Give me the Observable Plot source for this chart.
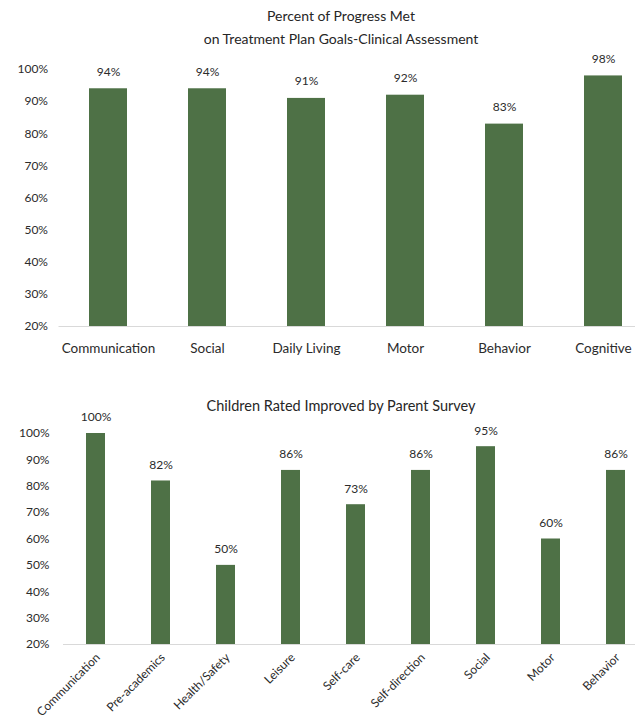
<!DOCTYPE html>
<html><head><meta charset="utf-8">
<script src="https://cdn.jsdelivr.net/npm/d3@7"></script>
<script src="https://cdn.jsdelivr.net/npm/@observablehq/plot@0.6"></script>
<style>
body{margin:0;background:#fff;font-family:Lato,sans-serif;}
#wrap{position:relative;width:635px;height:723px;overflow:hidden;background:#fff;}
.title{position:absolute;left:0;width:682px;text-align:center;color:#262626;white-space:nowrap;}
.chart{position:absolute;left:0;width:700px;}
.chart svg{max-width:none !important;}
</style></head>
<body>
<div id="wrap">
  <div class="title" style="top:4px;font-size:14px;line-height:23px;">Percent of Progress Met<br>on Treatment Plan Goals-Clinical Assessment</div>
  <div class="title" style="top:396px;font-size:14.5px;line-height:20px;">Children Rated Improved by Parent Survey</div>
  <div class="chart" id="c1" style="top:50px;"></div>
  <div class="chart" id="c2" style="top:420px;"></div>
</div>
<script>
const topCategories = ["Communication","Social","Daily Living","Motor","Behavior","Cognitive"];
const topValues = [94,94,91,92,83,98];
const bottomCategories = ["Communication","Pre-academics","Health/Safety","Leisure","Self-care","Self-direction","Social","Motor","Behavior"];
const bottomValues = [100,82,50,86,73,86,95,60,86];
const yTicks = [20,30,40,50,60,70,80,90,100];

const barColor = "#4E7146";
const textColor = "#2b2b2b";
const font = "Lato, sans-serif";

const topData = topCategories.map((c,i)=>({cat:c, value:topValues[i]}));
const bottomData = bottomCategories.map((c,i)=>({cat:c, value:bottomValues[i]}));

const chart1 = Plot.plot({
  width: 653, height: 320,
  marginLeft: 58.5, marginRight: 0, marginTop: 19, marginBottom: 44,
  x: {domain: topCategories, paddingInner: 0.616, paddingOuter: 0.308, label: null},
  y: {domain: [20,100], label: null},
  style: {fontFamily: font, color: textColor, background: "transparent", overflow: "visible", maxWidth: "none"},
  marks: [
    Plot.barY(topData, {x: "cat", y1: 20, y2: "value", fill: barColor}),
    Plot.ruleY([20], {stroke: "#d9d9d9", strokeWidth: 1.2}),
    Plot.text(topData, {x: "cat", y: "value", text: d => d.value + "%", dy: -17, fontSize: 12, fill: textColor}),
    Plot.axisY({ticks: yTicks, tickFormat: d => d + "%", tickSize: 0, tickPadding: 11, fontSize: 12}),
    Plot.axisX({tickSize: 0, tickPadding: 17, fontSize: 13.5})
  ]
});
document.getElementById("c1").appendChild(chart1);

const chart2 = Plot.plot({
  width: 648, height: 303,
  marginLeft: 63, marginRight: 0, marginTop: 13, marginBottom: 79,
  x: {domain: bottomCategories, paddingInner: 0.708, paddingOuter: 0.354, label: null},
  y: {domain: [20,100], label: null},
  style: {fontFamily: font, color: textColor, background: "transparent", overflow: "visible", maxWidth: "none"},
  marks: [
    Plot.barY(bottomData, {x: "cat", y1: 20, y2: "value", fill: barColor}),
    Plot.ruleY([20], {stroke: "#d9d9d9", strokeWidth: 1.2}),
    Plot.text(bottomData, {x: "cat", y: "value", text: d => d.value + "%", dy: -16, fontSize: 12, fill: textColor}),
    Plot.axisY({ticks: yTicks, tickFormat: d => d + "%", tickSize: 0, tickPadding: 14, fontSize: 12}),
    Plot.axisX({tickSize: 0, tickPadding: 11, tickRotate: -45, dx: 2, fontSize: 12})
  ]
});
document.getElementById("c2").appendChild(chart2);
</script>
</body></html>
